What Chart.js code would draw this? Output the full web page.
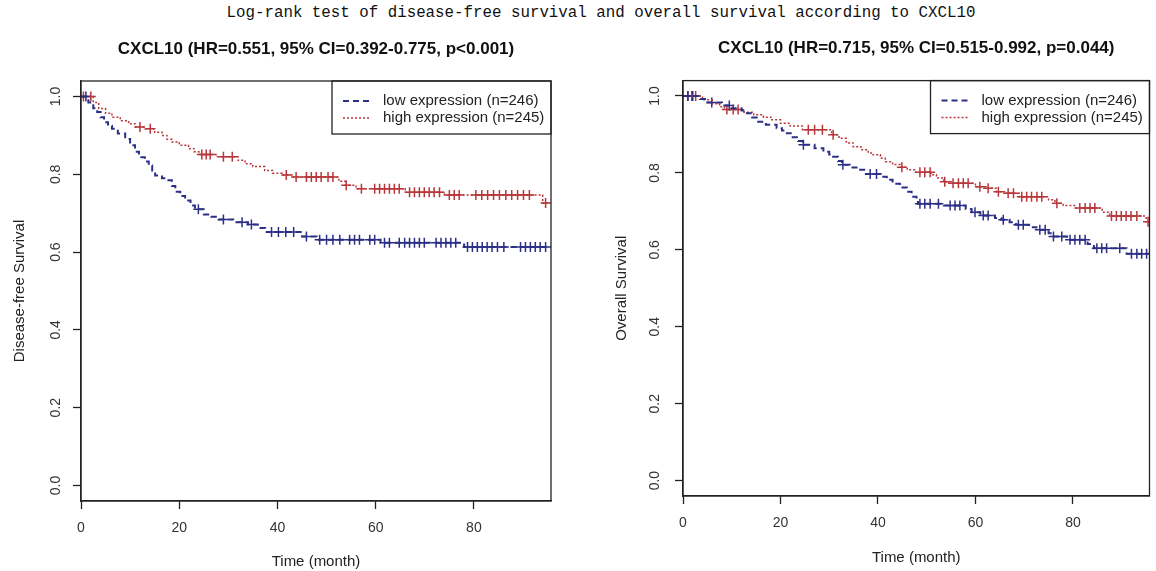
<!DOCTYPE html>
<html>
<head>
<meta charset="utf-8">
<script src="https://cdn.jsdelivr.net/npm/chart.js@4.4.1/dist/chart.umd.min.js"></script>
<style>
  body { margin: 0; background: #fff; width: 1156px; height: 571px; position: relative; overflow: hidden; }
  #mainTitle { position: absolute; left: 601px; top: 4px; transform: translateX(-50%); white-space: nowrap;
    font: 15.8px "Liberation Mono", monospace; color: #111; }
  canvas { position: absolute; top: 0; }
  #dfs { left: 0; }
  #os { left: 578px; }
</style>
</head>
<body>
<div id="mainTitle">Log-rank test of disease-free survival and overall survival according to CXCL10</div>
<canvas id="dfs" width="578" height="571"></canvas>
<canvas id="os" width="578" height="571"></canvas>
<script>
const timeTicks = [0, 20, 40, 60, 80];
const survTicks = [0, 0.2, 0.4, 0.6, 0.8, 1.0];
const groupLabels = ["low expression (n=246)", "high expression (n=245)"];
const xMax = 95.7;

// disease-free survival, low CXCL10
const dfsLowTime = [0, 1.5, 2.5, 3.3, 4, 4.7, 5.5, 6.3, 7.5, 9, 10, 11, 11.8, 13, 13.8, 14.5, 15.1, 16.5, 17.8, 18.5, 19.2, 20.2, 21.2, 22.3, 23.2, 25, 26.5, 28, 31, 34, 36, 37.5, 45, 48, 61, 78, 95.7];
const dfsLowSurv = [1, 0.985, 0.97, 0.96, 0.947, 0.934, 0.925, 0.917, 0.905, 0.891, 0.875, 0.858, 0.844, 0.833, 0.823, 0.81, 0.797, 0.79, 0.785, 0.77, 0.755, 0.744, 0.733, 0.72, 0.71, 0.697, 0.691, 0.684, 0.677, 0.671, 0.662, 0.652, 0.64, 0.632, 0.624, 0.613, 0.613];
const dfsLowCensor = [1, 23.9, 29, 32.8, 34.7, 38.8, 40.2, 41.7, 43.3, 45.9, 48.6, 50, 51.3, 52.7, 54.7, 55.7, 56.7, 58.8, 59.8, 61.8, 62.8, 64.8, 65.9, 66.9, 67.9, 68.9, 69.9, 72.3, 73.3, 74.3, 75.3, 76.3, 78.7, 79.7, 80.7, 81.7, 82.7, 83.7, 84.8, 86.1, 89.5, 90.5, 91.5, 92.5, 93.5, 94.6];

// disease-free survival, high CXCL10
const dfsHighTime = [0, 2.5, 3.6, 5, 6.3, 8, 9.7, 11, 13, 15, 16.5, 17.5, 18.5, 20, 21.9, 23, 24, 27.5, 32, 33.4, 35, 37.4, 39, 41, 43, 52.5, 53.8, 56, 66, 74, 94, 95.7];
const dfsHighSurv = [1, 0.985, 0.969, 0.957, 0.947, 0.938, 0.93, 0.922, 0.917, 0.908, 0.9, 0.89, 0.883, 0.875, 0.866, 0.858, 0.851, 0.845, 0.836, 0.827, 0.82, 0.81, 0.803, 0.798, 0.793, 0.782, 0.772, 0.763, 0.754, 0.747, 0.726, 0.726];
const dfsHighCensor = [0.5, 2, 12, 14.1, 24.6, 25.5, 26.3, 29, 30.8, 41.8, 43.8, 45.9, 46.9, 47.9, 48.9, 50.3, 51.3, 54, 57.1, 59.8, 60.8, 61.8, 62.8, 63.8, 64.8, 66.9, 67.9, 68.9, 69.9, 70.9, 71.9, 73, 75, 76, 77, 80.4, 81.6, 82.8, 84, 85.2, 86.5, 87.7, 88.9, 90.1, 91.3, 94.6];

// overall survival, low CXCL10
const osLowTime = [0, 3.5, 5, 8, 10, 12, 13.1, 14.2, 15.1, 17, 19.2, 20.3, 21.3, 22.5, 23.6, 24.5, 27, 28.8, 30, 30.8, 31.8, 32.6, 34.2, 35.6, 37.5, 40.5, 41.8, 43, 44.5, 45.9, 46.9, 47.9, 48.2, 53.5, 58, 59.2, 61, 64, 65.3, 67, 68.3, 71, 72.5, 75, 75.7, 78.8, 83, 84.3, 91, 95.7];
const osLowSurv = [1, 0.992, 0.983, 0.975, 0.968, 0.962, 0.955, 0.944, 0.933, 0.925, 0.916, 0.91, 0.903, 0.893, 0.883, 0.873, 0.864, 0.855, 0.848, 0.842, 0.831, 0.821, 0.814, 0.808, 0.797, 0.79, 0.782, 0.772, 0.762, 0.751, 0.738, 0.728, 0.72, 0.715, 0.706, 0.698, 0.689, 0.683, 0.678, 0.672, 0.665, 0.659, 0.652, 0.643, 0.635, 0.626, 0.615, 0.604, 0.59, 0.59];
const osLowCensor = [1, 2, 5.9, 9.5, 24.7, 32.8, 38.4, 39.7, 48.6, 49.6, 50.7, 52.4, 54.8, 55.8, 56.8, 59.9, 61.6, 62.6, 65.7, 68.8, 69.8, 73.2, 74.3, 76, 77.7, 79.4, 80.4, 81.4, 82.5, 84.9, 85.9, 86.9, 89.6, 92, 93.1, 94.1, 95.1];

// overall survival, high CXCL10
const osHighTime = [0, 4, 6, 7.5, 8.5, 12.5, 14.5, 16.5, 18, 20, 22, 24.5, 30.5, 32, 33.5, 34.9, 36.5, 38, 39, 40.5, 41.5, 43, 44.5, 46, 47.5, 50.9, 52, 53.5, 55, 60, 62.2, 64.3, 66.3, 69, 75, 76.3, 78, 80.5, 86, 87.5, 95, 95.7];
const osHighSurv = [1, 0.99, 0.98, 0.972, 0.965, 0.958, 0.951, 0.945, 0.938, 0.929, 0.922, 0.912, 0.899, 0.89, 0.878, 0.868, 0.86, 0.852, 0.847, 0.838, 0.829, 0.822, 0.815, 0.808, 0.802, 0.795, 0.787, 0.777, 0.773, 0.764, 0.76, 0.751, 0.747, 0.738, 0.73, 0.721, 0.715, 0.709, 0.698, 0.688, 0.673, 0.673];
const osHighCensor = [1, 1.8, 2.6, 9, 10.3, 11.3, 25.7, 27, 28.6, 30.8, 44.9, 48.6, 49.6, 50.7, 53.7, 55.4, 56.5, 57.5, 58.5, 60.9, 62.6, 64.7, 66.7, 67.8, 69.5, 70.5, 71.5, 72.6, 73.6, 76.7, 81.4, 82.5, 83.5, 84.5, 87.9, 88.9, 89.9, 90.9, 91.9, 93.1, 95.4];

const lowColor = "#2c2f86";
const highColor = "#b8363a";

Chart.defaults.font.family = "'Liberation Sans', Arial, sans-serif";
Chart.defaults.color = "#333";

// km value at time t (last step at or before t)
function survAt(times, surv, t){
    let s = surv[0];
    for(let i=0;i<times.length;i++){
        if(times[i] <= t) s = surv[i];
    }
    return s;
}

function stepData(times, surv){
    return times.map((t,i)=>({x:t, y:surv[i]}));
}

function censorData(times, surv, cens){
    return cens.map(t=>({x:t, y:survAt(times, surv, t)}));
}

// frame around the plot region, like R's box()
const frame = {
    id: "frame",
    afterDraw(chart){
        const {ctx, chartArea:a} = chart;
        ctx.save();
        ctx.strokeStyle = "#222";
        ctx.lineWidth = 1.3;
        ctx.strokeRect(a.left, a.top, a.right-a.left, a.bottom-a.top);
        ctx.restore();
    }
};

// legend box in the top right corner of the plot
const legendBox = {
    id: "legendBox",
    afterDatasetsDraw(chart){
        const {ctx, chartArea:a} = chart;
        const w = 219, h = 53;
        const x0 = a.right - w, y0 = a.top;
        ctx.save();
        ctx.fillStyle = "#fff";
        ctx.fillRect(x0, y0, w, h);
        ctx.strokeStyle = "#222";
        ctx.lineWidth = 1.3;
        ctx.strokeRect(x0, y0, w, h);
        ctx.font = "15px 'Liberation Sans'";
        ctx.textBaseline = "middle";
        chart.data.datasets.slice(0,2).forEach((ds,i)=>{
            const y = y0 + 20 + i*17;
            ctx.strokeStyle = ds.borderColor;
            ctx.lineWidth = ds.borderWidth;
            ctx.setLineDash(ds.borderDash);
            ctx.beginPath();
            ctx.moveTo(x0+11, y);
            ctx.lineTo(x0+38, y);
            ctx.stroke();
            ctx.setLineDash([]);
            ctx.fillStyle = "#222";
            ctx.fillText(ds.label, x0+51, y);
        });
        ctx.restore();
    }
};

function makeChart(id, cfg){
    const datasets = [
        {label:groupLabels[0], data:stepData(cfg.lowTime, cfg.lowSurv), showLine:true, stepped:true,
         borderColor:lowColor, borderWidth:2, borderDash:[6,4], pointRadius:0},
        {label:groupLabels[1], data:stepData(cfg.highTime, cfg.highSurv), showLine:true, stepped:true,
         borderColor:highColor, borderWidth:1.5, borderDash:[2,2], pointRadius:0},
        {label:"low censored", data:censorData(cfg.lowTime, cfg.lowSurv, cfg.lowCensor),
         pointStyle:"cross", pointRadius:5, pointBorderWidth:1.5, borderColor:lowColor, backgroundColor:lowColor},
        {label:"high censored", data:censorData(cfg.highTime, cfg.highSurv, cfg.highCensor),
         pointStyle:"cross", pointRadius:5, pointBorderWidth:1.5, borderColor:highColor, backgroundColor:highColor}
    ];
    return new Chart(document.getElementById(id), {
        type:"scatter",
        data:{datasets:datasets},
        plugins:[frame, legendBox],
        options:{
            responsive:false,
            animation:false,
            layout:{padding:{left:0, right:cfg.padRight, top:0, bottom:0}},
            plugins:{
                legend:{display:false},
                tooltip:{enabled:false},
                title:{display:true, text:cfg.title, fullSize:false, color:"#111",
                       font:{size:17, weight:"bold"}, padding:{top:cfg.titleTop, bottom:cfg.titleBottom}}
            },
            scales:{
                x:{
                    type:"linear", min:0, max:xMax,
                    afterBuildTicks:s=>{ s.ticks = timeTicks.map(v=>({value:v})); },
                    afterFit:s=>{ s.height = cfg.xHeight; },
                    grid:{drawOnChartArea:false, drawTicks:true, tickLength:8, tickColor:"#222", tickWidth:1.3},
                    border:{display:true, color:"#222", width:1.3},
                    ticks:{font:{size:14}, padding:cfg.xTickPad, maxRotation:0, color:"#333"},
                    title:{display:true, text:"Time (month)", font:{size:15}, color:"#222", padding:{top:0, bottom:cfg.xTitlePad}}
                },
                y:{
                    type:"linear", min:-0.04, max:1.04,
                    afterBuildTicks:s=>{ s.ticks = survTicks.map(v=>({value:v})); },
                    afterFit:s=>{ s.width = cfg.yWidth; },
                    grid:{drawOnChartArea:false, drawTicks:true, tickLength:8, tickColor:"#222", tickWidth:1.3},
                    border:{display:true, color:"#222", width:1.3},
                    ticks:{font:{size:14}, minRotation:90, maxRotation:90, crossAlign:"center", padding:cfg.yTickPad,
                           color:"#333", callback:v=>v.toFixed(1)},
                    title:{display:true, text:cfg.yTitle, font:{size:15}, color:"#222", padding:{top:cfg.yTitlePad, bottom:0}}
                }
            }
        }
    });
}

makeChart("dfs", {
    title:"CXCL10 (HR=0.551, 95% CI=0.392-0.775, p<0.001)",
    yTitle:"Disease-free Survival",
    lowTime:dfsLowTime, lowSurv:dfsLowSurv, lowCensor:dfsLowCensor,
    highTime:dfsHighTime, highSurv:dfsHighSurv, highCensor:dfsHighCensor,
    padRight:27, titleTop:39.5, titleBottom:21.1, xHeight:70, yWidth:81,
    xTickPad:10.5, xTitlePad:0, yTickPad:7, yTitlePad:11
});

makeChart("os", {
    title:"CXCL10 (HR=0.715, 95% CI=0.515-0.992, p=0.044)",
    yTitle:"Overall Survival",
    lowTime:osLowTime, lowSurv:osLowSurv, lowCensor:osLowCensor,
    highTime:osHighTime, highSurv:osHighSurv, highCensor:osHighCensor,
    padRight:4, titleTop:38.5, titleBottom:21.7, xHeight:75, yWidth:105,
    xTickPad:10.5, xTitlePad:4, yTickPad:10, yTitlePad:35
});
</script>
</body>
</html>
